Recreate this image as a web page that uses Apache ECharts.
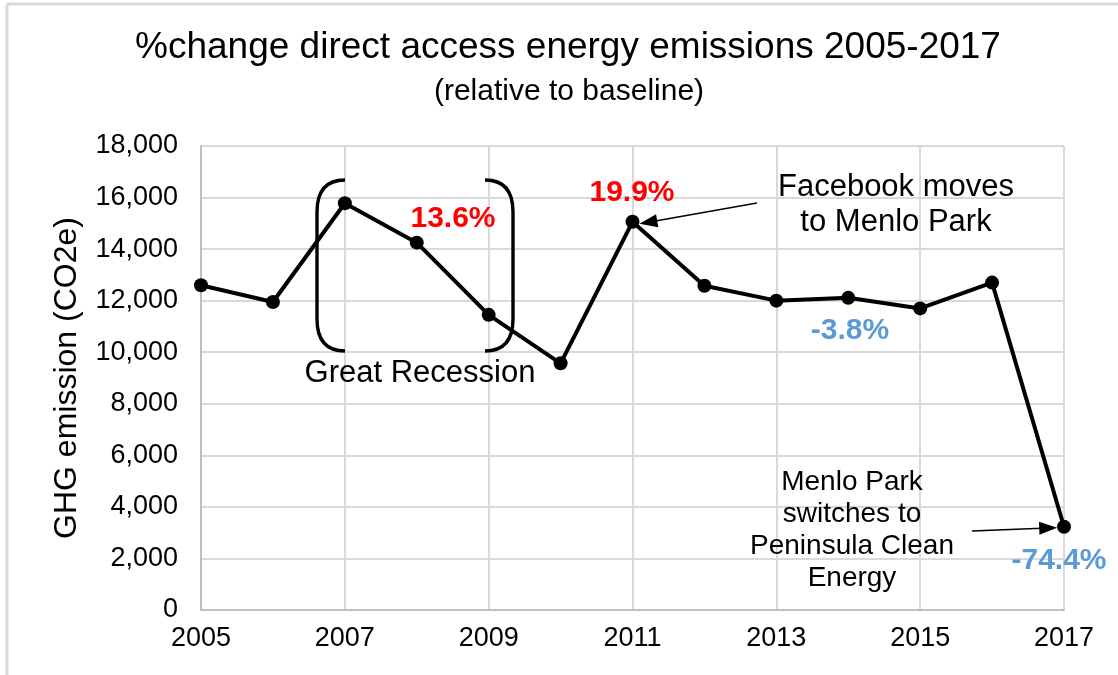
<!DOCTYPE html>
<html>
<head>
<meta charset="utf-8">
<script src="https://cdn.jsdelivr.net/npm/echarts@6/dist/echarts.min.js"></script>
<style>html,body{margin:0;padding:0;background:#fff}#c{width:1118px;height:675px}</style>
</head>
<body>
<div id="c"></div>
<script>
const years = [2005, 2006, 2007, 2008, 2009, 2010, 2011, 2012, 2013, 2014, 2015, 2016, 2017];
const emissions = [12600, 11950, 15780, 14250, 11450, 9570, 15060, 12580, 12000, 12110, 11700, 12700, 3230];
const yTicks = { min: 0, max: 18000, interval: 2000 };
const xTicks = { min: 2005, max: 2017, interval: 2 };
const titleText = '%change direct access energy emissions 2005-2017';
const subtitleText = '(relative to baseline)';
const yName = 'GHG emission (CO2e)';

const FONT = 'Arial, "Liberation Sans", sans-serif';
const chart = echarts.init(document.getElementById('c'), null, { renderer: 'canvas' });

function txt(x, y, text, size, opts) {
  opts = opts || {};
  return {
    type: 'text', x: x, y: y, z: 100,
    style: {
      text: text, fill: opts.color || '#000', font: (opts.bold ? 'bold ' : '') + size + 'px ' + FONT,
      textAlign: opts.align || 'center', textVerticalAlign: 'middle', lineHeight: opts.lh || size * 1.2
    }
  };
}
function bracket(xEdge, xSpine, yTop, yBot) {
  const st = { stroke: '#000', lineWidth: 3.4, fill: null };
  const r = 32;
  return [
    { type: 'bezierCurve', z: 50, shape: { x1: xEdge, y1: yTop, cpx1: xSpine, cpy1: yTop, x2: xSpine, y2: yTop + r }, style: st },
    { type: 'line', z: 50, shape: { x1: xSpine, y1: yTop + r, x2: xSpine, y2: yBot - r }, style: st },
    { type: 'bezierCurve', z: 50, shape: { x1: xSpine, y1: yBot - r, cpx1: xSpine, cpy1: yBot, x2: xEdge, y2: yBot }, style: st }
  ];
}

const option = {
  animation: false,
  backgroundColor: '#fff',
  grid: { left: 201, right: 54, top: 146, bottom: 65, containLabel: false },
  xAxis: {
    type: 'value', min: xTicks.min, max: xTicks.max, interval: xTicks.interval,
    axisLine: { show: true, lineStyle: { color: '#bfbfbf', width: 2 } },
    axisTick: { show: false },
    splitLine: { show: true, lineStyle: { color: '#d9d9d9', width: 2 } },
    axisLabel: { color: '#000', fontSize: 27, fontFamily: FONT, margin: 15, formatter: v => String(v) }
  },
  yAxis: {
    type: 'value', min: yTicks.min, max: yTicks.max, interval: yTicks.interval,
    name: yName, nameLocation: 'middle', nameGap: 118, nameRotate: 90,
    nameTextStyle: { color: '#000', fontSize: 32, fontFamily: FONT },
    axisLine: { show: true, lineStyle: { color: '#bfbfbf', width: 2 } },
    axisTick: { show: false },
    splitLine: { show: true, lineStyle: { color: '#d9d9d9', width: 2 } },
    axisLabel: { color: '#000', fontSize: 27, fontFamily: FONT, margin: 23,
      formatter: v => v.toString().replace(/\B(?=(\d{3})+(?!\d))/g, ',') }
  },
  series: [{
    type: 'line',
    data: years.map((y, i) => [y, emissions[i]]),
    lineStyle: { color: '#000', width: 4 },
    itemStyle: { color: '#000' },
    symbol: 'circle', symbolSize: 14, showAllSymbol: true,
    z: 5,
    markLine: {
      silent: true, symbol: ['none', 'triangle'], symbolSize: [13, 18],
      label: { show: false },
      lineStyle: { color: '#000', width: 1.4, type: 'solid' },
      emphasis: { disabled: true },
      data: [
        [{ coord: [2012.73, 15787] }, { coord: [2011.22, 15040] }],
        [{ coord: [2015.72, 3064] }, { coord: [2016.78, 3181] }]
      ]
    }
  }],
  graphic: [
    { type: 'line', shape: { x1: 7, y1: 4, x2: 1118, y2: 4 }, style: { stroke: '#d9d9d9', lineWidth: 3 } },
    { type: 'line', shape: { x1: 7, y1: 4, x2: 7, y2: 675 }, style: { stroke: '#d9d9d9', lineWidth: 3 } },
    txt(568, 48, titleText, 37),
    txt(569, 92, subtitleText, 30),
    ...bracket(345, 317, 180, 351),
    ...bracket(485, 513, 180, 351),
    txt(420, 373, 'Great Recession', 31),
    txt(453, 219, '13.6%', 30, { bold: true, color: '#ff0000' }),
    txt(632, 193, '19.9%', 30, { bold: true, color: '#ff0000' }),
    txt(850, 331, '-3.8%', 30, { bold: true, color: '#5b9bd5' }),
    txt(1059, 561, '-74.4%', 30, { bold: true, color: '#5b9bd5' }),
    txt(896, 187, 'Facebook moves', 31),
    txt(896, 222, 'to Menlo Park', 31),
    txt(852, 482, 'Menlo Park', 28),
    txt(852, 514, 'switches to', 28),
    txt(852, 546, 'Peninsula Clean', 28),
    txt(852, 578, 'Energy', 28)
  ]
};
chart.setOption(option);
</script>
</body>
</html>
